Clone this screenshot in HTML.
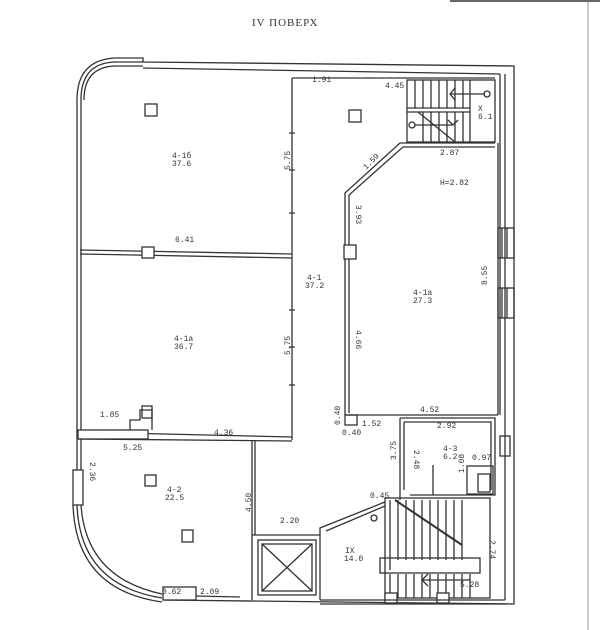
<!DOCTYPE html>
<html><head><meta charset="utf-8"><style>
html,body{margin:0;padding:0;background:#fff;width:600px;height:630px;overflow:hidden}
svg{display:block}
text{font-family:"Liberation Mono",monospace;fill:#333;font-size:8px}
</style></head><body>
<svg width="600" height="630" viewBox="0 0 600 630" stroke="#333" fill="none" stroke-width="1.3">
<line x1="588" y1="0" x2="588" y2="630" stroke="#bbb" stroke-width="1.5"/>
<line x1="450" y1="1" x2="600" y2="1" stroke="#666" stroke-width="2"/>
<text x="252" y="26" style="font-family:'Liberation Serif',serif;font-size:11px;letter-spacing:1px" stroke="none">IV ПОВЕРХ</text>
<!-- outer walls -->
<path d="M77,100 Q77,60 115,58 L143,58 L143,62 L514,66 L514,604 L163,600"/>
<path d="M81,100 Q81,63 115,62 L143,62"/>
<path d="M143,68 L500,74"/>
<path d="M84,100 Q84,67 115,66 L143,66"/>
<line x1="77" y1="100" x2="77" y2="505"/>
<line x1="81" y1="100" x2="81" y2="505"/>
<line x1="500" y1="74" x2="500" y2="415"/>
<line x1="505" y1="74" x2="505" y2="600"/>
<line x1="498" y1="143" x2="498" y2="415"/>
<line x1="292" y1="78" x2="495" y2="78"/>
<line x1="292" y1="78" x2="292" y2="440"/>
<line x1="80" y1="250" x2="292" y2="254"/>
<line x1="80" y1="254" x2="292" y2="258"/>
<rect x="142" y="247" width="12" height="11" fill="#fff"/>
<rect x="145" y="104" width="12" height="12"/>
<rect x="349" y="110" width="12" height="12"/>
<line x1="78" y1="432" x2="292" y2="437"/>
<line x1="78" y1="439" x2="292" y2="441"/>
<rect x="78" y="430" width="70" height="9" fill="#fff"/>
<path d="M130,430 L130,420 L140,420 L140,410 L152,410 L152,430"/>
<rect x="142" y="406" width="10" height="12"/>
<line x1="252" y1="441" x2="252" y2="535"/>
<line x1="255" y1="441" x2="255" y2="535"/>
<path d="M77,505 Q80,585 162,598"/>
<path d="M81,505 Q86,578 162,594"/>
<path d="M73,505 Q76,590 162,602"/>
<rect x="73" y="470" width="10" height="35" fill="#fff"/>
<rect x="163" y="587" width="33" height="13" fill="#fff"/>
<rect x="145" y="475" width="11" height="11"/>
<rect x="182" y="530" width="11" height="12"/>
<line x1="196" y1="596" x2="240" y2="597"/>
<path d="M252,535 L320,535 L320,600 M252,535 L252,600"/>
<rect x="258" y="540" width="58" height="55"/>
<rect x="262" y="544" width="50" height="47"/>
<line x1="262" y1="544" x2="312" y2="591"/>
<line x1="312" y1="544" x2="262" y2="591"/>
<path d="M320,535 L320,528 L385,502"/>
<path d="M326,531 L385,506"/>
<path d="M345,415 L345,193 L400,143 L495,143"/>
<path d="M349,413 L349,195 L403,147 L495,147"/>
<line x1="345" y1="415" x2="498" y2="415"/>
<rect x="344" y="245" width="12" height="14" fill="#fff"/>
<rect x="345" y="415" width="12" height="10"/>
<rect x="498" y="228" width="16" height="30"/>
<line x1="502" y1="228" x2="502" y2="258"/><line x1="507" y1="228" x2="507" y2="258"/>
<rect x="498" y="288" width="16" height="30"/>
<line x1="502" y1="288" x2="502" y2="318"/><line x1="507" y1="288" x2="507" y2="318"/>
<rect x="500" y="436" width="10" height="20"/>
<rect x="407" y="80" width="88" height="62"/>
<line x1="407" y1="108" x2="470" y2="108"/>
<line x1="407" y1="112" x2="470" y2="112"/>
<path d="M415,80v28M423,80v28M431,80v28M439,80v28M447,80v28M455,80v28M463,80v28M470,80v62M423,112v30M431,112v30M439,112v30M447,112v30M455,112v30M463,112v30"/>
<line x1="418" y1="112" x2="455" y2="142"/>
<line x1="450" y1="94" x2="485" y2="94"/><circle cx="487" cy="94" r="3"/>
<line x1="415" y1="125" x2="452" y2="125"/><circle cx="412" cy="125" r="3"/>
<path d="M455,88 l-5,6 l5,6 M448,120 l5,5 l5,-5"/>
<path d="M400,418 L495,418 L495,495 L410,495"/>
<path d="M404,422 L491,422 L491,490"/>
<line x1="400" y1="418" x2="400" y2="500"/>
<line x1="404" y1="422" x2="404" y2="490"/>
<line x1="433" y1="465" x2="433" y2="495"/>
<rect x="467" y="466" width="26" height="28"/>
<rect x="478" y="474" width="12" height="18"/>
<rect x="385" y="498" width="105" height="100"/>
<rect x="380" y="558" width="100" height="15"/>
<path d="M390,500v70M398,500v60M406,500v60M414,500v60M422,500v60M430,500v60M438,500v60M446,500v60M454,500v60M462,500v60"/>
<path d="M390,574v24M398,574v24M406,574v24M414,574v24M422,574v24M430,574v24M438,574v24M446,574v24M454,574v24M462,574v24M470,574v24"/>
<line x1="395" y1="500" x2="462" y2="545" stroke-width="2"/>
<circle cx="374" cy="518" r="3"/>
<line x1="422" y1="580" x2="470" y2="580"/><path d="M428,574 l-6,6 l6,6"/>
<rect x="385" y="593" width="12" height="10" fill="#fff"/>
<rect x="437" y="593" width="12" height="10" fill="#fff"/>
<line x1="320" y1="600" x2="505" y2="600"/>
<line x1="320" y1="604" x2="505" y2="604"/>
<path d="M289,133h6M289,170h6M289,213h6M289,310h6M289,347h6M289,385h6"/>
<g stroke="none">
<text x="172" y="158">4-1б</text><text x="172" y="166">37.6</text>
<text x="175" y="242">6.41</text>
<text x="174" y="341">4-1а</text><text x="174" y="349">36.7</text>
<text x="307" y="280">4-1</text><text x="305" y="288">37.2</text>
<text x="413" y="295">4-1а</text><text x="413" y="303">27.3</text>
<text x="440" y="185">H=2.82</text>
<text x="312" y="82">1.91</text><text x="385" y="88">4.45</text>
<text x="478" y="111">X</text><text x="478" y="119">6.1</text>
<text x="440" y="155">2.87</text>
<text x="420" y="412">4.52</text>
<text x="100" y="417">1.85</text>
<text x="214" y="435">4.36</text>
<text x="123" y="450">5.25</text>
<text x="167" y="492">4-2</text><text x="165" y="500">22.5</text>
<text x="162" y="594">0.62</text><text x="200" y="594">2.09</text>
<text x="280" y="523">2.20</text>
<text x="362" y="426">1.52</text><text x="342" y="435">0.40</text>
<text x="437" y="428">2.92</text>
<text x="443" y="451">4-3</text><text x="443" y="459">6.2</text>
<text x="472" y="460">0.97</text>
<text x="370" y="498">0.45</text>
<text x="345" y="553">IX</text><text x="344" y="561">14.0</text>
<text x="460" y="587">5.28</text>
<text transform="translate(290,170) rotate(-90)">5.75</text>
<text transform="translate(290,355) rotate(-90)">5.75</text>
<text transform="translate(356,205) rotate(90)">3.93</text>
<text transform="translate(366,170) rotate(-45)">1.59</text>
<text transform="translate(487,285) rotate(-90)">8.55</text>
<text transform="translate(356,330) rotate(90)">4.66</text>
<text transform="translate(340,425) rotate(-90)">0.40</text>
<text transform="translate(90,462) rotate(90)">2.36</text>
<text transform="translate(251,512) rotate(-90)">4.50</text>
<text transform="translate(490,540) rotate(90)">2.74</text>
<text transform="translate(396,460) rotate(-90)">3.75</text>
<text transform="translate(414,450) rotate(90)">2.48</text>
<text transform="translate(464,473) rotate(-90)">1.08</text>
</g>
</svg>
</body></html>
